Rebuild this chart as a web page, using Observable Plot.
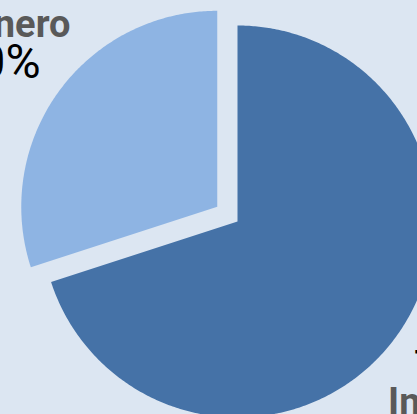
<!DOCTYPE html>
<html>
<head>
<meta charset="utf-8">
<script src="https://cdn.jsdelivr.net/npm/d3@7"></script>
<script src="https://cdn.jsdelivr.net/npm/@observablehq/plot@0.6"></script>
<style>
  html, body { margin: 0; padding: 0; background: #DCE6F2; overflow: hidden; }
  #chart svg { display: block; background: #DCE6F2; }
</style>
</head>
<body>
<div id="chart"></div>
<script>
// ---- data ----
const categories = ["Inversiones", "Dinero"];
const values = [70, 30];
const colors = ["#4572A7", "#8EB4E3"];
const exploded = [0, 1];   // which slice is pulled out

// ---- layout (styles) ----
const W = 417, H = 414;
const R = 196;                 // pie radius in px
const cxPx = 237, cyPx = 221;  // pie centre in px
const explodeDist = 25 / R;    // in radius units
const labelR = 1.37;           // label anchor radius (radius units)

const total = d3.sum(values);
const pie = d3.pie().sort(null).startAngle(0).endAngle(2 * Math.PI)(values);

const slices = pie.map((p, i) => {
  const mid = (p.startAngle + p.endAngle) / 2;
  const off = exploded[i] ? explodeDist : 0;
  const cx = off * Math.sin(mid), cy = off * Math.cos(mid);
  const pts = [{x: cx, y: cy}];
  const n = Math.max(8, Math.ceil((p.endAngle - p.startAngle) / 0.01));
  for (let k = 0; k <= n; k++) {
    const a = p.startAngle + (p.endAngle - p.startAngle) * k / n;
    pts.push({x: cx + Math.sin(a), y: cy + Math.cos(a)});
  }
  return {
    name: categories[i], color: colors[i], pts,
    lx: cx + labelR * Math.sin(mid), ly: cy + labelR * Math.cos(mid),
    pct: d3.format(".0%")(values[i] / total)
  };
});

// per-label text offsets (styles)
const nameOffset = [{dx: -66.7, dy: 36, anchor: "start"}, {dx: 70.4, dy: -11.7, anchor: "end"}];
const pctOffset  = [{dx: -41.2, dy: 4.2, anchor: "start"}, {dx: 40.5, dy: 29, anchor: "end"}];

const marks = [];
slices.forEach((s) => {
  marks.push(Plot.line(s.pts, {x: "x", y: "y", fill: s.color, stroke: "none", curve: "linear-closed"}));
});
slices.forEach((s, i) => {
  marks.push(Plot.text([s], {
    x: "lx", y: "ly", text: "name",
    dx: nameOffset[i].dx, dy: nameOffset[i].dy, textAnchor: nameOffset[i].anchor,
    lineAnchor: "bottom", fill: "#595959", fontWeight: "bold", fontSize: 38,
    fontFamily: "Roboto"
  }));
  marks.push(Plot.text([s], {
    x: "lx", y: "ly", text: "pct",
    dx: pctOffset[i].dx, dy: pctOffset[i].dy, textAnchor: pctOffset[i].anchor,
    lineAnchor: "bottom", fill: "#000000", fontSize: 48,
    fontFamily: "Roboto"
  }));
});

const chart = Plot.plot({
  width: W, height: H,
  margin: 0,
  x: {domain: [-cxPx / R, (W - cxPx) / R], range: [0, W], axis: null},
  y: {domain: [-(H - cyPx) / R, cyPx / R], range: [H, 0], axis: null},
  style: {background: "#DCE6F2", overflow: "hidden"},
  marks
});
document.getElementById("chart").appendChild(chart);
</script>
</body>
</html>
